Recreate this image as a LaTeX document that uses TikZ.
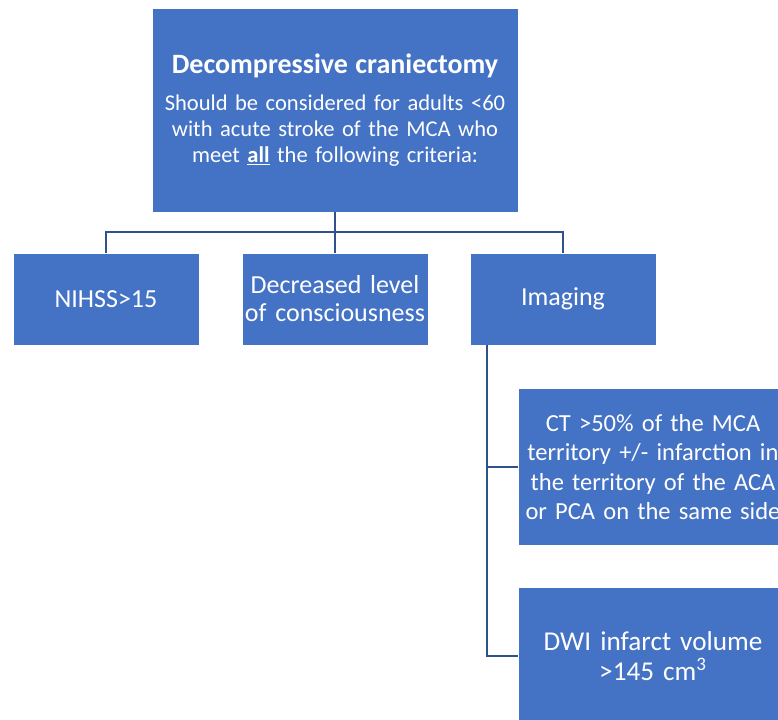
\documentclass[tikz,border=0pt]{standalone}
\usepackage{fontspec}
\setmainfont{Carlito}
\definecolor{boxblue}{HTML}{4472C4}
\definecolor{linkblue}{HTML}{2F528F}
\begin{document}
\begin{tikzpicture}[x=0.75pt, y=-0.75pt,
  card/.style={draw=white, line width=0.6pt, fill=boxblue, text=white,
    align=center, inner sep=0pt, font=\fontsize{19.5}{21}\selectfont},
  link/.style={draw=linkblue, line width=1.6pt}]
  \useasboundingbox (0,0) rectangle (778,719);
  \clip (0,0) rectangle (778,719);

  % root box
  \node[card, minimum width=274.5pt, minimum height=153pt, text width=272pt,
        font=\fontsize{16.9}{19.5}\selectfont] (root) at (335,110)
    {{\fontsize{21}{22}\selectfont\bfseries Decompressive craniectomy}\\[8pt]
     Should be considered for adults <60\\
     with acute stroke of the MCA who\\
     meet \underline{\textbf{all}} the following criteria:};

  % criteria row
  \node[card, minimum width=139.5pt, minimum height=69pt, text width=137pt] (nihss) at (106,299) {NIHSS>15};
  \node[card, minimum width=139.5pt, minimum height=69pt, text width=137pt] (loc) at (335,299)
    {Decreased level\\of consciousness};
  \node[card, minimum width=139.5pt, minimum height=69pt, text width=137pt] (img) at (563,299) {Imaging};

  % imaging sub-criteria
  \node[card, minimum width=202.5pt, minimum height=117.75pt, text width=202pt,
        font=\fontsize{18.4}{22}\selectfont] (ct) at (653,467)
    {CT >50\% of the MCA\\territory +/- infarction in\\the territory of the ACA\\or PCA on the same side};
  \node[card, minimum width=202.5pt, minimum height=103.5pt, text width=202pt,
        font=\fontsize{20.4}{22.5}\selectfont] (dwi) at (653,656)
    {DWI infarct volume\\>145 cm\textsuperscript{3}};

  % tree connectors
  \draw[link] (root.south) -- (loc.north);
  \draw[link] (nihss.north) -- ++(0,-21) -| (img.north);
  \coordinate (imgfoot) at ([xshift=12.75pt]img.south west);
  \draw[link] (imgfoot) |- (ct.west);
  \draw[link] (imgfoot) |- (dwi.west);
\end{tikzpicture}
\end{document}
